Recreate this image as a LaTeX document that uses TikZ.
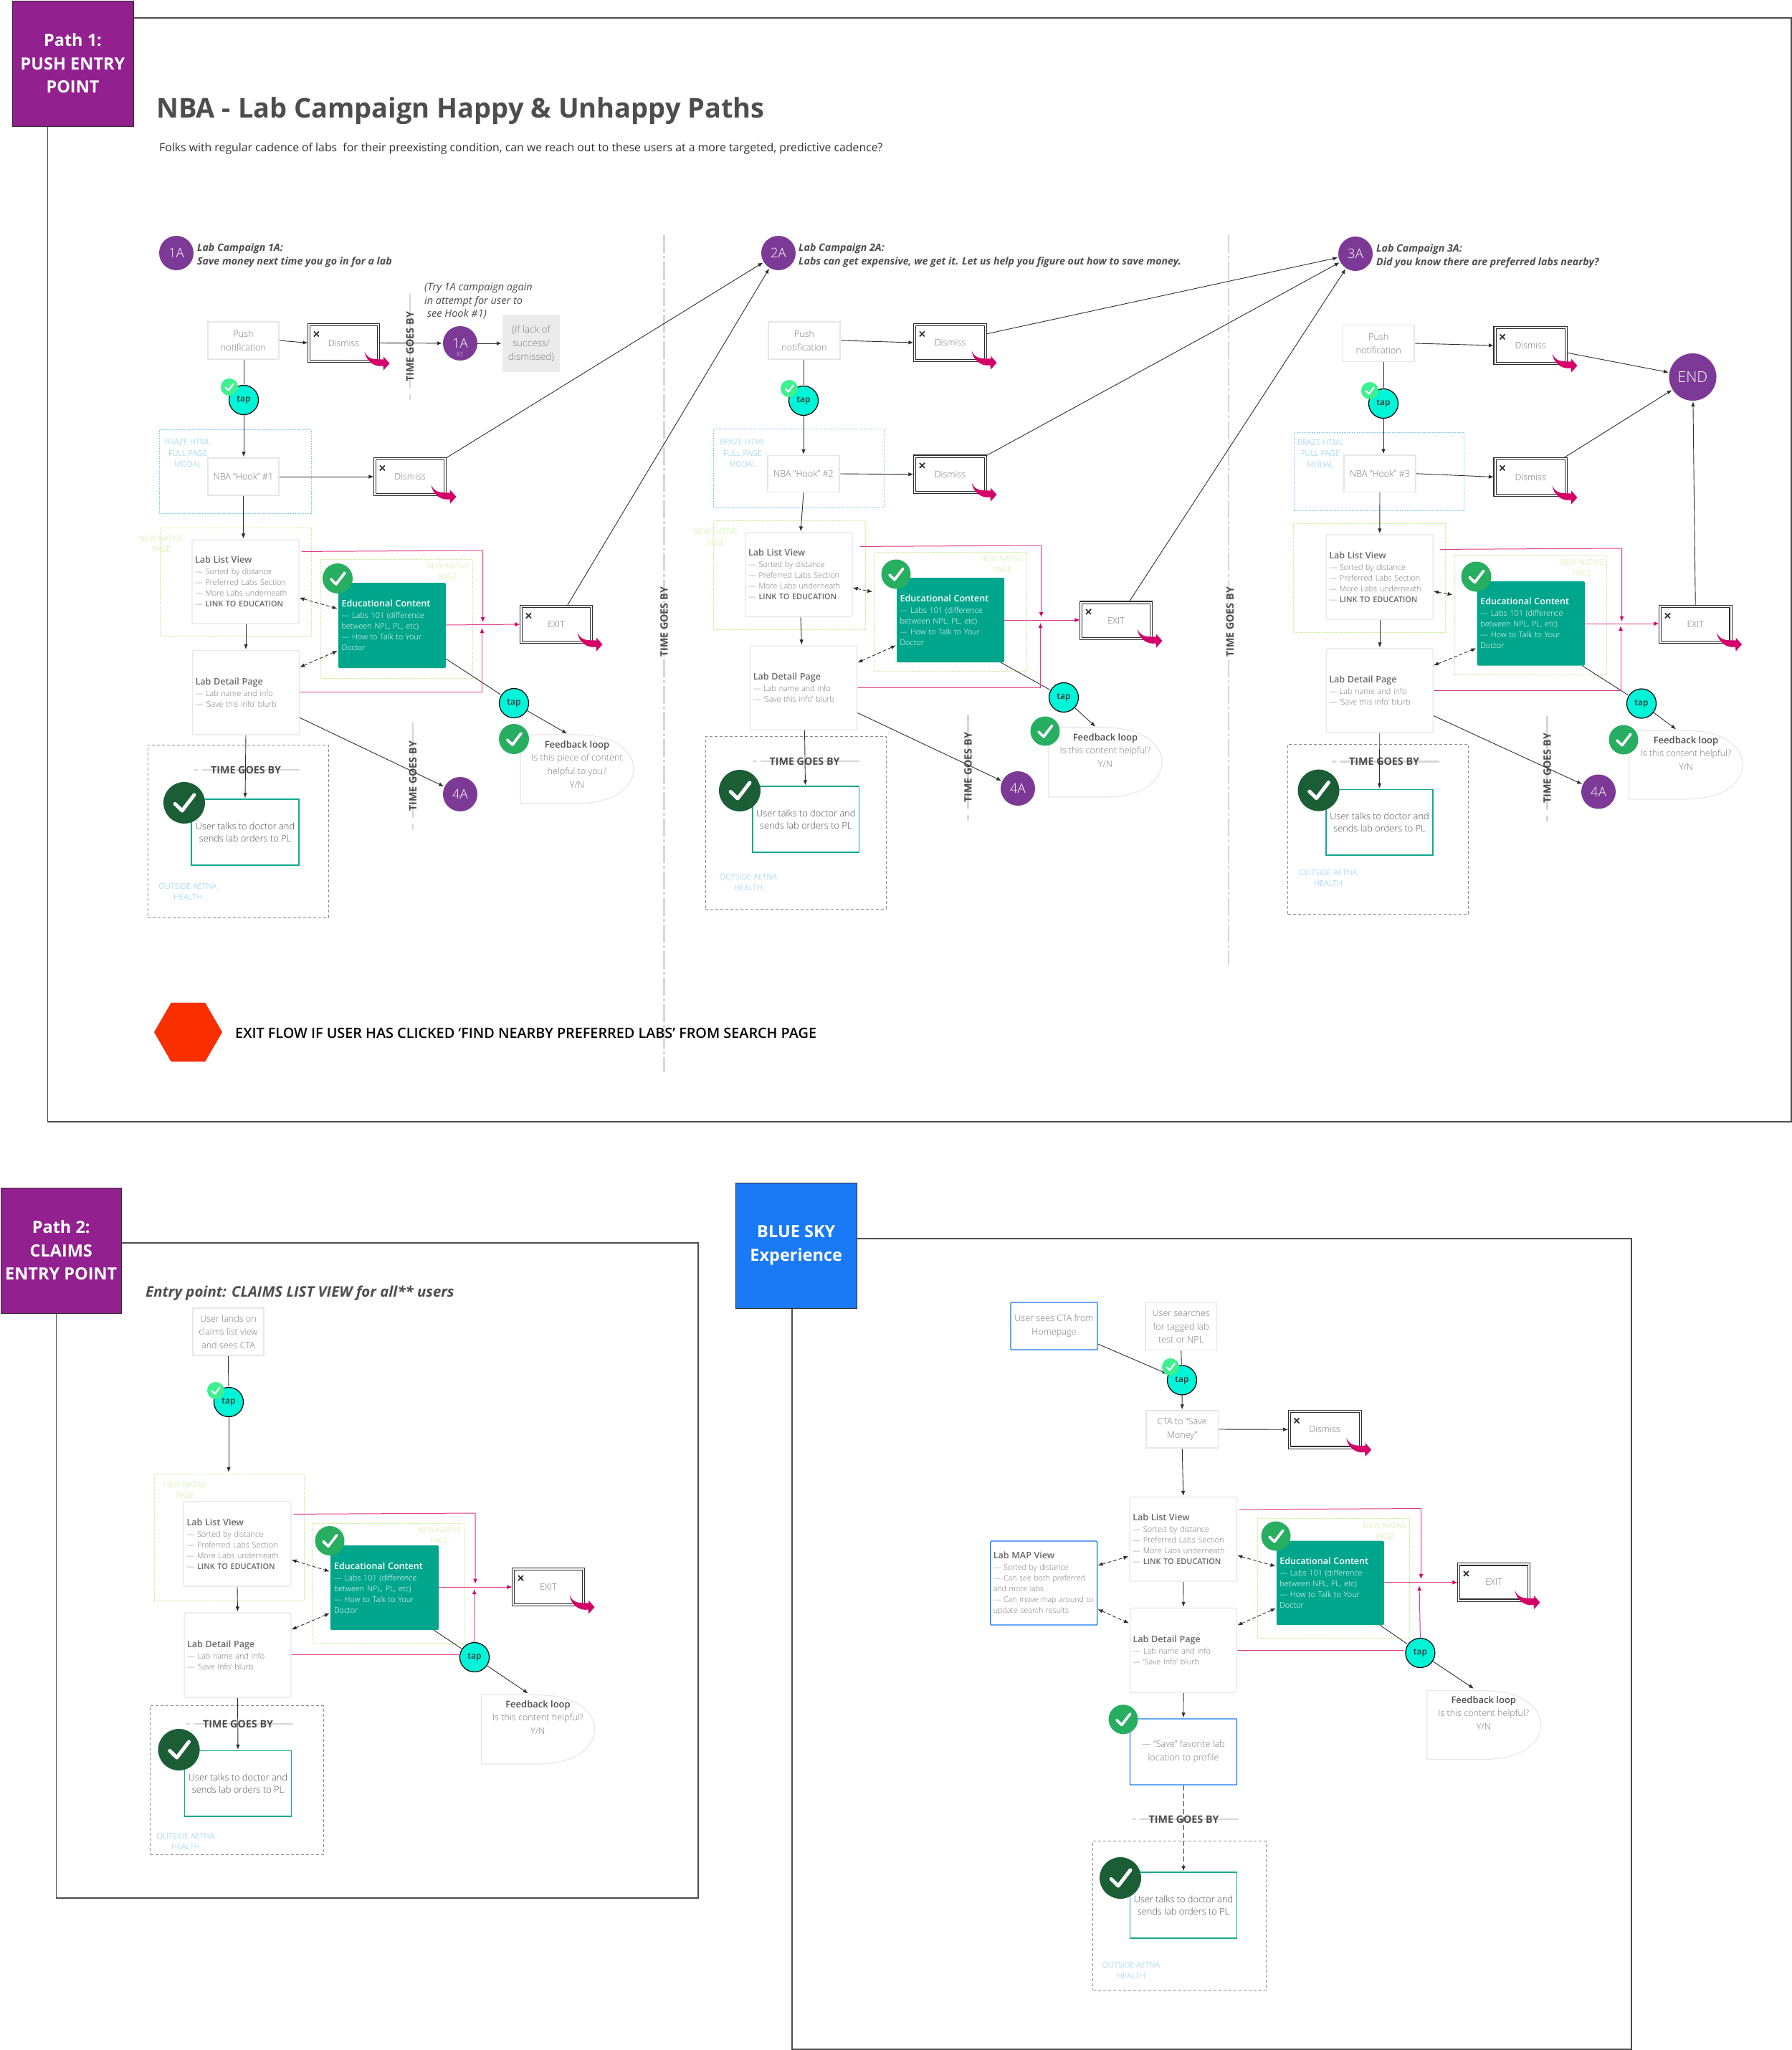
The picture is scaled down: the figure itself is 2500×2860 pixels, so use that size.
\documentclass[tikz,border=0pt]{standalone}
\usepackage{fontspec}
\usetikzlibrary{arrows.meta,shapes.geometric}
\setmainfont{Open Sans}
\newfontfamily\osl{Open Sans Light}
\newfontfamily\oss{Open Sans Semibold}
\definecolor{gtext}{HTML}{787878}
\definecolor{dtext}{HTML}{4D4D4D}
\definecolor{edge}{HTML}{E6E6E6}
\definecolor{line}{HTML}{2E2E2E}
\definecolor{pinkl}{HTML}{E23C8A}
\definecolor{pinkd}{HTML}{D4006A}
\definecolor{teal}{HTML}{00A68B}
\definecolor{tealline}{HTML}{12A98E}
\definecolor{purp}{HTML}{7C3A96}
\definecolor{purpbox}{HTML}{92208F}
\definecolor{skyb}{HTML}{1A7AF5}
\definecolor{lblue}{HTML}{82CBF2}
\definecolor{lgreen}{HTML}{CDEFA0}
\definecolor{gedge}{HTML}{C6EE8E}
\definecolor{tapc}{HTML}{00F5D8}
\definecolor{chks}{HTML}{3DF090}
\definecolor{chkm}{HTML}{27AE60}
\definecolor{chkb}{HTML}{1B5E35}
\definecolor{rulec}{HTML}{D6D6D6}
\definecolor{HexRed}{HTML}{F92F00}
\newcommand{\fs}[2]{\fontsize{#1pt}{#2pt}\selectfont}
\pgfdeclarelayer{back}\pgfdeclarelayer{mid}\pgfsetlayers{back,mid,main}
\tikzset{
 frame/.style={draw=line!85,line width=1.2pt},
 hdr/.style={draw=line,line width=1pt,fill=#1,text=white,align=center,font=\bfseries\fs{23.5}{32.5}},
 plain/.style={draw=edge,line width=1.2pt,fill=white,text=gtext,align=center,font=\osl\fs{12.6}{18.7}},
 dism/.style={draw=line,line width=1.1pt,double=white,double distance=2pt,fill=white,text=gtext,align=center,font=\osl\fs{12.6}{18}},
 lab/.style={draw=edge,line width=1.2pt,fill=white,rounded corners=1.5pt,text=gtext,align=left,text width=141pt,inner xsep=4pt,font=\osl\fs{10.9}{15}},
 edu/.style={fill=teal,rounded corners=1.5pt,text=white,align=left,text width=141pt,inner xsep=4.5pt,font=\osl\fs{10.9}{15}},
 bluebox/.style={draw=skyb,line width=1.4pt,fill=white,rounded corners=1pt,text=gtext,align=center,font=\osl\fs{12.6}{18.7}},
 bluelab/.style={draw=skyb,line width=1.4pt,fill=white,rounded corners=1.5pt,text=gtext,align=left,text width=141pt,inner xsep=4pt,font=\osl\fs{10.9}{15}},
 labor/.style={draw=tealline,line width=1.3pt,fill=white,text=dtext,align=center,font=\osl\fs{12.8}{17.5}},
 grpg/.style={draw=gedge,line width=1pt,dash pattern=on 2pt off 1.5pt},
 grpb/.style={draw=lblue,line width=1pt,dash pattern=on 2pt off 1.5pt},
 grpd/.style={draw=gray!90,line width=1pt,dash pattern=on 4pt off 3pt},
 lblg/.style={text=lgreen,align=center,font=\osl\fs{11}{15.5},inner sep=0pt},
 lblb/.style={text=lblue,align=center,font=\osl\fs{11}{15.5},inner sep=0pt},
 pnode/.style={circle,fill=purp,text=white,inner sep=0pt,minimum size=48pt,font=\osl\fs{18.5}{22}},
 tapn/.style={circle,draw=black,line width=1.2pt,fill=tapc,text=dtext!70!black,inner sep=0pt,minimum size=41pt,font=\oss\fs{12}{14}},
 conn/.style={draw=line,line width=.9pt},
 arr/.style={conn,-{Latex[length=7pt,width=5.5pt]}},
 darr/.style={conn,dash pattern=on 5pt off 3pt,{Latex[length=7pt,width=5.5pt]}-{Latex[length=7pt,width=5.5pt]}},
 pln/.style={draw=pinkl,line width=1pt},
 parr/.style={pln,-{Latex[length=7pt,width=6pt,color=pinkd]}},
 rulel/.style={draw=rulec,line width=2.6pt,line cap=round},
 tg/.style={text=dtext,font=\bfseries\fs{14.3}{16},inner sep=0pt},
 captxt/.style={text=dtext,align=left,anchor=west,inner sep=0pt,font=\bfseries\itshape\fs{14.2}{19.5}},
}
% corner-placed box
\newcommand{\bx}[7][]{\node[inner sep=0pt,#1,minimum width={(#5-#3)*1pt},minimum height={(#6-#4)*1pt}] (#2) at ({(#3+#5)/2},{(#4+#6)/2}) {#7};}
% circle with tick
\newcommand{\chk}[5]{\node[circle,fill=#5,inner sep=0pt,minimum size={2*#4*1pt}] (#1) at (#2,#3) {};
 \draw[white,line width={0.16*#4*1pt+.4pt},line cap=round,line join=round] ({#2-0.44*#4},{#3+0.05*#4}) -- ({#2-0.1*#4},{#3+0.38*#4}) -- ({#2+0.48*#4},{#3-0.38*#4});}
\newcommand{\dismark}[1]{\draw[line width=1.7pt,color=line] ([shift={(7.5pt,-10pt)}]#1.north west) -- ([shift={(14.5pt,-17pt)}]#1.north west) ([shift={(14.5pt,-10pt)}]#1.north west) -- ([shift={(7.5pt,-17pt)}]#1.north west);
 \fill[pinkd,shift={(#1.south east)}] (-20,-14) .. controls (-14,-1) and (-4,-4) .. (6.5,-3) -- (6.5,-7) -- (15,2.5) -- (6.5,12) -- (6,6) .. controls (-8,8) and (-18,-2) .. cycle;}
\newcommand{\fbshape}[4]{\draw[draw=edge,line width=1.1pt,fill=white] (#1,#2) -- ({#1+78},#2) .. controls ({#3-22},#2) and (#3,{(#2+#4)/2-22}) .. (#3,{(#2+#4)/2}) .. controls (#3,{(#2+#4)/2+22}) and ({#3-22},#4) .. ({#1+78},#4) -- (#1,#4) -- cycle;}
\newcommand{\fbtext}[4]{\node[anchor=north,inner sep=0pt,align=center,text=gtext,font=\osl\fs{12.6}{18.7}] (#1) at (#2,{#3-14}) {{\bfseries\color{dtext}\fs{13}{18.7}Feedback loop}\\#4};}
\newcommand{\vtime}[5]{\draw[rulel] (#2,#3) -- (#2,{#4-16}); \draw[rulel] (#2,{#4-6}) -- (#2,#4);
 \node[tg,rotate=90] (#1) at (#2,#5) {TIME GOES BY};}
\newcommand{\htime}[5]{\draw[rulel] (#3,#2) -- ({#3+4},#2); \draw[rulel] ({#3+11},#2) -- (#4,#2);
 \node[tg] (#1) at (#5,#2) {TIME GOES BY};}
\newcommand{\listbody}{{\oss\color{dtext!85}\fs{12.6}{17}Lab List View}\\[1pt]— Sorted by distance\\— Preferred Labs Section\\— More Labs underneath\\— {\oss\color{dtext!85}LINK TO EDUCATION}}
\newcommand{\detbody}[1]{{\oss\color{dtext!85}\fs{12.6}{17}Lab Detail Page}\\[1pt]— Lab name and info\\— ‘#1’ blurb}
\newcommand{\edubody}{{\oss\fs{12.6}{17}Educational Content}\\[1pt]— Labs 101 (difference\\between NPL, PL, etc)\\— How to Talk to Your\\Doctor}
\newcommand{\nnp}{NEW NATIVE\\PAGE}
\newcommand{\bhm}{BRAZE HTML\\FULL PAGE\\MODAL}
\newcommand{\oah}{OUTSIDE AETNA\\HEALTH}
\newcommand{\utd}{User talks to doctor and\\sends lab orders to PL}
\begin{document}
\begin{tikzpicture}[x=1pt,y=-1pt]
\useasboundingbox (0,0) rectangle (2500,2860);
\begin{pgfonlayer}{back}
\fill[white] (0,0) rectangle (2500,2860);
\bx[frame]{fr1}{66.5}{25}{2499}{1565}{}
\bx[frame]{fr2}{78.5}{1734}{974}{2648}{}
\bx[frame]{fr3}{1105}{1728}{2276}{2859}{}
% dividers
\draw[draw=rulec,line width=2.6pt,dash pattern=on 25pt off 4pt on 4pt off 4pt] (926.5,328) -- (926.5,1495);
\node[tg,rotate=90] (tgd1) at (926.5,868) {TIME GOES BY};
\draw[draw=rulec,line width=2.6pt,dash pattern=on 25pt off 4pt on 4pt off 4pt] (1714,328) -- (1714,1346);
\node[tg,rotate=90] (tgd2) at (1716,868) {TIME GOES BY};
% group boxes column 1
\bx[grpb]{g1b}{222}{599}{434}{716}{}
\node[lblb] (l1b) at (262,632.5) {\bhm};
\bx[grpg]{g1n}{223}{736}{434}{887}{}
\node[lblg] (l1n) at (225,759) {\nnp};
\bx[grpg]{g1e}{447}{780}{659}{946}{}
\node[lblg] (l1e) at (625,797) {\nnp};
\bx[grpd]{g1d}{206}{1039}{458}{1280}{}
\node[lblb] (l1o) at (262,1244) {\oah};
\vtime{t1a}{572}{410}{557}{484}
\vtime{t1b}{576}{1009}{1156}{1083}
\htime{t1c}{1074}{272}{417}{343}
% group boxes column 2
\bx[grpb]{g2b}{995}{598}{1233}{708}{}
\node[lblb] (l2b) at (1036,632.5) {\bhm};
\bx[grpg]{g2n}{995}{726}{1207}{878}{}
\node[lblg] (l2n) at (998,749.5) {\nnp};
\bx[grpg]{g2e}{1219}{770}{1432}{936.5}{}
\node[lblg] (l2e) at (1398,787) {\nnp};
\bx[grpd]{g2d}{984}{1027.5}{1236}{1268}{}
\node[lblb] (l2o) at (1044,1231) {\oah};
\vtime{t2b}{1350.5}{998}{1144}{1071}
\htime{t2c}{1062}{1051}{1198}{1122.5}
% group boxes column 3
\bx[grpb]{g3b}{1805.5}{603}{2042}{712.5}{}
\node[lblb] (l3b) at (1842,633) {\bhm};
\bx[grpg]{g3n}{1804.5}{730}{2016.5}{882}{}
\bx[grpg]{g3e}{2029}{774}{2241}{941}{}
\node[lblg] (l3e) at (2207,792) {\nnp};
\bx[grpd]{g3d}{1796.5}{1038.5}{2048.5}{1275}{}
\node[lblb] (l3o) at (1853,1225) {\oah};
\vtime{t3b}{2158.6}{999}{1145}{1072}
\htime{t3c}{1062.4}{1859.5}{2007}{1931}
% group boxes path 2
\bx[grpg]{g4n}{215}{2056}{424}{2233}{}
\node[lblg] (l4n) at (259,2079) {\nnp};
\bx[grpg]{g4e}{435}{2125}{647.5}{2292}{}
\node[lblg] (l4e) at (613.5,2142) {\nnp};
\bx[grpd]{g4d}{209.5}{2379.6}{451}{2587}{}
\node[lblb] (l4o) at (259,2569) {\oah};
\htime{t4c}{2405}{260}{408}{332}
% group boxes blue sky
\bx[grpg]{g5e}{1754}{2118.4}{1966}{2285.4}{}
\node[lblg] (l5e) at (1932.7,2136) {\nnp};
\bx[grpd]{g5d}{1524.5}{2568.6}{1766}{2776}{}
\node[lblb] (l5o) at (1578,2749) {\oah};
\htime{t5c}{2538}{1580}{1727}{1651.5}
\end{pgfonlayer}

% headers and texts
\bx[hdr=purpbox]{h1}{17}{1}{186}{176}{Path 1:\\PUSH ENTRY\\POINT}
\bx[hdr=purpbox]{h2}{1}{1657}{169.5}{1832}{Path 2:\\CLAIMS\\ENTRY POINT}
\bx[hdr=skyb]{h3}{1026.5}{1650}{1195}{1825}{BLUE SKY\\Experience}
\node[anchor=west,inner sep=0pt,text=dtext,font=\bfseries\fs{38}{44}] (title) at (218,155) {NBA - Lab Campaign Happy \& Unhappy Paths};
\node[anchor=west,inner sep=0pt,text=line,font=\fs{15.8}{20}] (sub) at (222,207) {Folks with regular cadence of labs\ \ for their preexisting condition, can we reach out to these users at a more targeted, predictive cadence?};
\node[regular polygon,regular polygon sides=6,fill=HexRed,inner sep=0pt,minimum size=95pt] (hex) at (262.5,1440) {};
\node[anchor=west,inner sep=0pt,text=black,font=\oss\fs{19.8}{24}] (exitnote) at (328,1441) {EXIT FLOW IF USER HAS CLICKED ‘FIND NEARBY PREFERRED LABS’ FROM SEARCH PAGE};
\node[anchor=west,inner sep=0pt,text=dtext,font=\bfseries\itshape\fs{20.4}{26}] (entry) at (203,1804) {Entry point: CLAIMS LIST VIEW for all** users};

% ===== column 1
\node[pnode] (a1) at (246,353) {1A};
\node[captxt] (c1) at (275,356.5) {Lab Campaign 1A:\\Save money next time you go in for a lab};
\bx[plain]{p1}{290}{449}{389}{501}{Push\\notification}
\bx[dism]{d1a}{431}{453}{528}{504}{Dismiss}
\node[pnode] (x1) at (642,479) {1A};
\node[inner sep=0pt,text=white!80!purp,font=\osl\fs{9}{10}] (x1t) at (642,494) {X1};
\bx[inner sep=0pt,fill=black!8,text=gtext,align=center,font=\osl\fs{13.5}{19}]{lack}{701}{439}{781}{519}{(If lack of\\success/\\dismissed)}
\node[anchor=west,inner sep=0pt,align=left,text=dtext,font=\itshape\fs{14.5}{18.7}] (note) at (592,420) {(Try 1A campaign again\\in attempt for user to\\\ see Hook \#1)};
\node[tapn] (tp1) at (340,558) {tap};
\bx[plain]{hk1}{290}{639}{389}{691}{NBA “Hook” \#1}
\bx[dism]{d1b}{523}{640}{621}{690}{Dismiss}
\bx[lab]{ll1}{268}{753}{417}{870}{\listbody}
\bx[lab]{dt1}{269}{907.5}{417}{1025}{\detbody{Save this info}}
\bx[edu]{ed1}{472}{813}{622}{932}{\edubody}
\bx[dism]{x1a}{727}{846}{825}{896}{EXIT}
\node[tapn] (tq1) at (717,981) {tap};
\fbshape{726}{1025}{884}{1121}
\fbtext{fb1}{805}{1047}{Is this piece of content\\helpful to you?\\Y/N}
\coordinate (fi1) at (792,1024);
\bx[labor]{us1}{267}{1115}{417}{1207}{\utd}
\node[pnode] (f1) at (642,1108) {4A};
% ===== column 2
\node[pnode] (a2) at (1086,353) {2A};
\node[captxt] (c2) at (1114,356.5) {Lab Campaign 2A:\\Labs can get expensive, we get it. Let us help you figure out how to save money.};
\bx[plain]{p2}{1072}{449}{1172}{501}{Push\\notification}
\bx[dism]{d2a}{1276}{453}{1375}{503}{Dismiss}
\node[tapn] (tp2) at (1121,559) {tap};
\bx[plain]{hk2}{1071}{635.5}{1171}{686.5}{NBA “Hook” \#2}
\bx[dism]{d2b}{1276}{636.5}{1375}{687}{Dismiss}
\bx[lab]{ll2}{1040}{743}{1189}{860.5}{\listbody}
\bx[lab]{dt2}{1047.5}{901}{1195}{1018}{\detbody{Save this info}}
\bx[edu]{ed2}{1251}{806}{1401}{924}{\edubody}
\bx[dism]{x2a}{1508}{840.5}{1606}{891}{EXIT}
\node[tapn] (tq2) at (1484,973) {tap};
\fbshape{1463}{1015}{1621}{1112}
\fbtext{fb2}{1542}{1037}{Is this content helpful?\\Y/N}
\coordinate (fi2) at (1529,1014.6);
\bx[labor]{us2}{1050}{1097}{1198.5}{1189}{\utd}
\node[pnode] (f2) at (1420,1100) {4A};
% ===== column 3
\node[pnode] (a3) at (1891,354) {3A};
\node[captxt] (c3) at (1920,357.5) {Lab Campaign 3A:\\Did you know there are preferred labs nearby?};
\bx[plain]{p3}{1873.5}{453.5}{1973}{504.5}{Push\\notification}
\bx[dism]{d3a}{2085.5}{457}{2185}{507}{Dismiss}
\node[pnode,minimum size=66pt,font=\osl\fs{21}{30}] (en) at (2361.5,526) {END};
\node[tapn] (tp3) at (1930,563) {tap};
\bx[plain]{hk3}{1875}{635}{1975}{686.5}{NBA “Hook” \#3}
\bx[dism]{d3b}{2085.5}{640}{2185}{691}{Dismiss}
\bx[lab]{ll3}{1850.5}{746}{1999}{864}{\listbody}
\bx[lab]{dt3}{1850.5}{905}{1999}{1022}{\detbody{Save this info}}
\bx[edu]{ed3}{2060.5}{811}{2211}{928.5}{\edubody}
\bx[dism]{x3a}{2316}{846}{2414.5}{896}{EXIT}
\node[tapn] (tq3) at (2290,981.5) {tap};
\fbshape{2272.5}{1019}{2431}{1115}
\fbtext{fb3}{2352}{1041}{Is this content helpful?\\Y/N}
\coordinate (fi3) at (2339,1018);
\bx[labor]{us3}{1850}{1101.6}{1999}{1193}{\utd}
\node[pnode] (f3) at (2230,1104.5) {4A};
% ===== path 2
\bx[plain]{p4}{269}{1825}{368}{1891}{User lands on\\claims list view\\and sees CTA}
\node[tapn] (tp4) at (319,1956) {tap};
\coordinate (gi4) at (319,2055);
\bx[lab]{ll4}{256}{2095}{406}{2213}{\listbody}
\bx[lab]{dt4}{257}{2250}{406}{2368}{\detbody{Save Info}}
\bx[edu]{ed4}{461}{2156}{612}{2274}{\edubody}
\bx[dism]{x4a}{716}{2188.6}{814}{2239}{EXIT}
\node[tapn] (tq4) at (662,2312) {tap};
\fbshape{671.5}{2364.6}{829.5}{2461}
\fbtext{fb4}{750.5}{2386}{Is this content helpful?\\Y/N}
\coordinate (fi4) at (737.6,2363);
\bx[labor]{us4}{257.7}{2442.5}{406.3}{2534}{\utd}
% ===== blue sky
\bx[bluebox]{b1}{1410}{1817}{1531}{1883}{User sees CTA from\\Homepage}
\bx[plain]{b2}{1598}{1817.5}{1697.5}{1883.5}{User searches\\for tagged lab\\test or NPL}
\node[tapn] (tp5) at (1649,1925.5) {tap};
\bx[plain]{b3}{1599}{1968}{1699.5}{2020}{CTA to “Save\\Money”}
\bx[dism]{d5a}{1798.6}{1969}{1897.6}{2019.5}{Dismiss}
\bx[lab]{ll5}{1576}{2088.5}{1725.6}{2206}{\listbody}
\bx[lab]{dt5}{1576.5}{2243.4}{1725.6}{2361}{\detbody{Save Info}}
\bx[bluelab,font=\osl\fs{10.7}{15}]{mp5}{1382}{2150}{1530.5}{2267}{{\oss\color{dtext!85}\fs{12.6}{17}Lab MAP View}\\[1pt]— Sorted by distance\\— Can see both preferred\\and more labs\\\mbox{— Can move map around to}\\update search results}
\bx[edu]{ed5}{1781}{2149.6}{1930.5}{2267}{\edubody}
\bx[dism]{x5a}{2035}{2182.4}{2133}{2232.5}{EXIT}
\node[tapn] (tq5) at (1981.4,2306) {tap};
\fbshape{1991}{2358.6}{2149.5}{2454.5}
\fbtext{fb5}{2069.8}{2380}{Is this content helpful?\\Y/N}
\coordinate (fi5) at (2056.8,2356.3);
\bx[bluebox]{sv5}{1576.5}{2398}{1725.5}{2490}{— “Save” favorite lab\\location to profile}
\bx[labor]{us5}{1576.5}{2612}{1725.5}{2704}{\utd}

% ===== connectors
\begin{pgfonlayer}{mid}
\tikzset{every path/.append style={shorten >=1pt}}
% col 1
\draw[arr] (p1.east) -- (d1a.west);
\draw[arr] (d1a.east) -- (x1);
\draw[arr] (x1) -- (lack.west);
\draw[conn] (tp1 |- p1.south) -- (tp1);
\draw[arr] (tp1) -- (tp1 |- hk1.north);
\draw[arr] (hk1.east) -- (d1b.west);
\draw[arr] (hk1.south) -- (ll1.north -| hk1.south);
\draw[arr] (ll1.south -| dt1.north) -- (dt1.north);
\draw[darr] (ll1.east |- 0,834) -- (ed1.west |- 0,849.5);
\draw[darr] ([yshift=-24pt]dt1.north east) -- (ed1.west |- 0,907.5);
\draw[arr] (dt1.south) -- (us1.north);
\draw[arr] ([yshift=-35pt]dt1.east) -- (f1);
\draw[conn] ([yshift=13pt]ed1.south east) -- (tq1);
\draw[arr] (tq1) -- (fi1);
\coordinate (j1) at (673,872);
\draw[parr] ([shift={(3pt,-17pt)}]ll1.north east) -- (673.5,768) -- (673.5,869);
\draw[parr] (ed1.east |- j1) -- (x1a.west);
\draw[parr] (dt1.east |- 0,965) -- (672.5,965) -- (672.5,875);
\draw[arr] (d1b.north east) -- (a2);
\draw[arr] ([xshift=15pt]x1a.north) -- (a2);
% col 2
\draw[arr] (p2.east) -- (d2a.west);
\draw[arr] (d2a.east |- 0,466) -- (a3);
\draw[conn] (tp2 |- p2.south) -- (tp2);
\draw[arr] (tp2) -- (tp2 |- hk2.north);
\draw[arr] (hk2.east) -- (d2b.west);
\draw[arr] (hk2.south) -- (ll2.north -| 1117,0);
\draw[arr] (ll2.south -| 1117,0) -- (dt2.north -| 1118.4,0);
\draw[darr] (ll2.east |- 0,820) -- (1218,826);
\draw[darr] ([yshift=-24pt]dt2.north east) -- (ed2.west |- 0,900);
\draw[arr] (dt2.south -| 1122.5,0) -- (us2.north -| 1123.5,0);
\draw[arr] ([yshift=-35pt]dt2.east) -- (f2);
\draw[conn] ([xshift=-5pt]ed2.south east) -- (tq2);
\draw[arr] (tq2) -- (fi2);
\draw[parr] ([shift={(10pt,-20pt)}]ll2.north east) -- (1452.5,761) -- (1452.5,862);
\draw[parr] (ed2.east |- 0,865) -- (x2a.west |- 0,865);
\draw[parr] (dt2.east |- 0,959.5) -- (1451.5,959.5) -- (1451.5,868);
\draw[arr] (d2b.north east) -- (a3);
\draw[arr] ([xshift=18pt]x2a.north) -- (a3);
% col 3
\draw[arr] (p3.east) -- (d3a.west);
\draw[arr] ([yshift=-10pt]d3a.east) -- (en);
\draw[conn] (tp3 |- p3.south) -- (tp3);
\draw[arr] (tp3) -- (tp3 |- hk3.north);
\draw[arr] (hk3.east) -- (d3b.west);
\draw[arr] (hk3.south) -- (ll3.north);
\draw[arr] (ll3.south -| hk3.south) -- (dt3.north -| hk3.south);
\draw[darr] (ll3.east |- 0,825) -- (2027.5,830);
\draw[darr] ([yshift=-24pt]dt3.north east) -- (ed3.west |- 0,904);
\draw[arr] (dt3.south) -- (us3.north);
\draw[arr] ([yshift=-35pt]dt3.east) -- (f3);
\draw[conn] ([xshift=-4pt]ed3.south east) -- (tq3);
\draw[arr] (tq3) -- (fi3);
\draw[parr] ([shift={(9pt,-21pt)}]ll3.north east) -- (2262.5,765) -- (2262.5,868);
\draw[parr] (ed3.east |- 0,870) -- (x3a.west |- 0,870);
\draw[parr] (dt3.east |- 0,963) -- (2261,963) -- (2261,872);
\draw[arr] ([xshift=-5pt]d3b.north east) -- (en);
\draw[arr] (x3a.north) -- (en);
% path 2
\draw[conn] (p4.south) -- (tp4);
\draw[arr] (tp4) -- (gi4);
\draw[arr] (ll4.south) -- (dt4.north);
\draw[darr] (ll4.east |- 0,2176) -- (ed4.west |- 0,2192.6);
\draw[darr] ([yshift=-24pt]dt4.north east) -- (ed4.west |- 0,2250.3);
\draw[arr] (dt4.south) -- (us4.north);
\draw[conn] ([xshift=-7pt]ed4.south east) -- (tq4);
\draw[arr] (tq4) -- (fi4);
\draw[parr] ([shift={(3pt,-18pt)}]ll4.north east) -- (663,2111) -- (663,2210.5);
\draw[parr] (ed4.east |- 0,2214) -- (x4a.west |- 0,2214);
\draw[pln] (dt4.east |- 0,2308) -- (tq4.west |- 0,2308);
\draw[parr] (tq4.north) -- (661.7,2216);
% blue sky
\draw[arr] (b1.east |- 0,1875) -- (tp5);
\draw[conn] (b2.south) -- (tp5);
\draw[arr] (tp5) -- (b3.north);
\draw[arr] (b3.east) -- (d5a.west);
\draw[arr] (b3.south) -- (ll5.north);
\draw[arr] (ll5.south) -- (dt5.north);
\draw[darr] (mp5.east |- 0,2184) -- (ll5.west |- 0,2171);
\draw[darr] (mp5.east |- 0,2245) -- (dt5.west |- 0,2265);
\draw[darr] (ll5.east |- 0,2170) -- (ed5.west |- 0,2185.4);
\draw[darr] (ll5.east |- 0,2267.5) -- (ed5.west |- 0,2243.4);
\draw[conn] ([xshift=-6pt]ed5.south east) -- (tq5);
\draw[arr] (tq5) -- (fi5);
\draw[parr] ([shift={(3pt,-18pt)}]ll5.north east) -- (1982.5,2104.5) -- (1982.5,2204);
\draw[parr] (ed5.east |- 0,2207.7) -- (x5a.west |- 0,2207.7);
\draw[pln] (dt5.east |- 0,2302) -- (tq5.west |- 0,2302);
\draw[parr] (tq5.north) -- (1980,2211);
\draw[arr] (dt5.south) -- (sv5.north);
\draw[arr,dash pattern=on 7pt off 4pt] (sv5.south) -- (us5.north);
\end{pgfonlayer}

% ticks
\chk{k1a}{320}{540}{12}{chks}
\chk{k1b}{471}{807}{21}{chkm}
\chk{k1c}{717}{1031}{21}{chkm}
\chk{k1d}{257}{1120}{29}{chkb}
\chk{k2a}{1101}{542}{12}{chks}
\chk{k2b}{1250}{801}{20.5}{chkm}
\chk{k2c}{1458}{1020}{20.5}{chkm}
\chk{k2d}{1032}{1103}{29}{chkb}
\chk{k3a}{1911}{545}{12}{chks}
\chk{k3b}{2059.5}{804.5}{21}{chkm}
\chk{k3c}{2265}{1032}{20.5}{chkm}
\chk{k3d}{1839.5}{1102.6}{29}{chkb}
\chk{k4a}{301}{1940}{12}{chks}
\chk{k4b}{460}{2149.5}{20.5}{chkm}
\chk{k4d}{249.6}{2441}{29}{chkb}
\chk{k5a}{1633}{1907}{12}{chks}
\chk{k5b}{1780}{2143}{20.5}{chkm}
\chk{k5c}{1567}{2398.7}{20.5}{chkm}
\chk{k5d}{1563}{2620}{29}{chkb}
% dismiss marks
\dismark{d1a}\dismark{d1b}\dismark{x1a}
\dismark{d2a}\dismark{d2b}\dismark{x2a}
\dismark{d3a}\dismark{d3b}\dismark{x3a}
\dismark{x4a}\dismark{d5a}\dismark{x5a}
\end{tikzpicture}
\end{document}
